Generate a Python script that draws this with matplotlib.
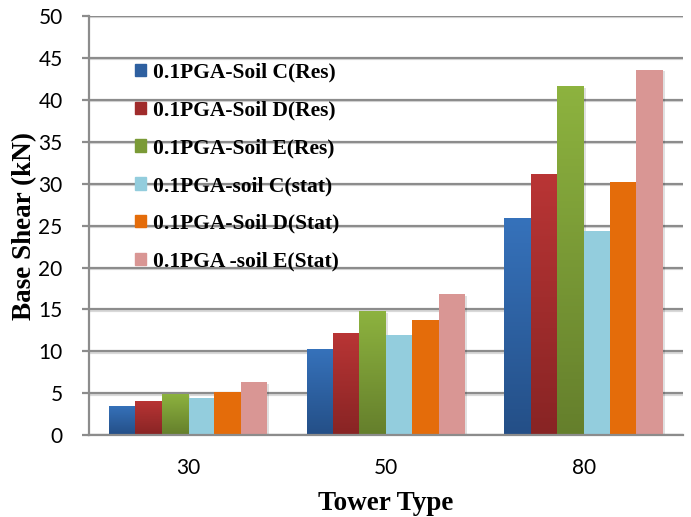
import numpy as np
import matplotlib.pyplot as plt
import matplotlib.patheffects as pe
from matplotlib.colors import LinearSegmentedColormap

# ---------------------------------------------------
# DATA
# ---------------------------------------------------

towers = ["30", "50", "80"]

series_labels = [
    "0.1PGA-Soil C(Res)",
    "0.1PGA-Soil D(Res)",
    "0.1PGA-Soil E(Res)",
    "0.1PGA-soil C(stat)",
    "0.1PGA-Soil D(Stat)",
    "0.1PGA -soil E(Stat)",
]

soil_c_res = [3.5, 10.3, 25.9]
soil_d_res = [4.1, 12.2, 31.1]
soil_e_res = [4.9, 14.8, 41.6]
soil_c_stat = [4.4, 11.9, 24.3]
soil_d_stat = [5.2, 13.8, 30.2]
soil_e_stat = [6.3, 16.8, 43.6]

values = [soil_c_res, soil_d_res, soil_e_res, soil_c_stat, soil_d_stat, soil_e_stat]

# (top colour, bottom colour); flat series use the same for both
colors = [
    ("#3672bb", "#244f87"),
    ("#b93535", "#882424"),
    ("#8db33f", "#657f2c"),
    ("#93cddd", "#93cddd"),
    ("#e46c0a", "#e46c0a"),
    ("#d99694", "#d99694"),
]
legend_colors = ["#2e60a0", "#a02c2c", "#7a9a36", "#93cddd", "#e46c0a", "#d99694"]

# ---------------------------------------------------
# PLOTTING
# ---------------------------------------------------

fig = plt.figure(figsize=(6.91, 5.17), dpi=100)
ax = fig.add_axes([0.1288, 0.158, 0.859, 0.8114])

x = np.arange(len(towers))
n = len(values)
width = 0.8 / n
grid_col = "#8c8c8c"
bar_shadow = [pe.SimplePatchShadow(offset=(1.5, -1), shadow_rgbFace="#000000", alpha=0.12),
              pe.Normal()]

for i, (vals, (top, bot)) in enumerate(zip(values, colors)):
    xs = x - 0.4 + width * (i + 0.5)
    bars = ax.bar(xs, vals, width=width, color=legend_colors[i],
                  label=series_labels[i], zorder=3, linewidth=0)
    for b in bars:
        b.set_path_effects(bar_shadow)
    if top != bot:
        # vertical shading like the original Excel bars
        cmap = LinearSegmentedColormap.from_list(f"g{i}", [bot, top])
        for b in bars:
            bx, bw, bh = b.get_x(), b.get_width(), b.get_height()
            grad = np.linspace(0, 1, 100).reshape(-1, 1)
            im = ax.imshow(grad, cmap=cmap, origin="lower", aspect="auto",
                           extent=[bx, bx + bw, 0, bh], zorder=3.5)
            im.set_clip_path(b)

ax.set_xlim(-0.5, 2.5)
ax.set_ylim(0, 50)
ax.set_yticks(np.arange(0, 51, 5))
ax.set_xticks(x)
ax.set_xticklabels(towers)

line_shadow = [pe.SimpleLineShadow(offset=(0.5, -1.2), shadow_color="#000000", alpha=0.15),
               pe.Normal()]
ax.yaxis.grid(True, color=grid_col, linewidth=1.6, zorder=0, path_effects=line_shadow)
ax.set_axisbelow(True)

for s in ["top", "right"]:
    ax.spines[s].set_visible(False)
for s in ["left", "bottom"]:
    ax.spines[s].set_color(grid_col)
    ax.spines[s].set_linewidth(1.6)
    ax.spines[s].set_zorder(4)

ax.tick_params(axis="y", length=5, width=1.6, color=grid_col, pad=14, labelcolor="black")
ax.tick_params(axis="x", length=0, pad=16, labelcolor="black")
for lab in ax.get_xticklabels() + ax.get_yticklabels():
    lab.set_fontfamily("Lato")
    lab.set_fontsize(15)

ax.set_xlabel("Tower Type", fontfamily="Liberation Serif", fontweight="bold",
              fontsize=19.5, labelpad=10)
ax.set_ylabel("Base Shear (kN)", fontfamily="Liberation Serif", fontweight="bold",
              fontsize=19.5, labelpad=1)

handles = [plt.Rectangle((0, 0), 1, 1, color=c) for c in legend_colors]
ax.legend(handles, series_labels, loc="upper left", bbox_to_anchor=(0.045, 0.935),
          frameon=False, handlelength=0.5, handleheight=0.5, handletextpad=0.35,
          labelspacing=0.83, prop={"family": "Liberation Serif", "weight": "bold", "size": 15.5})

fig.savefig("out.png", dpi=100)
